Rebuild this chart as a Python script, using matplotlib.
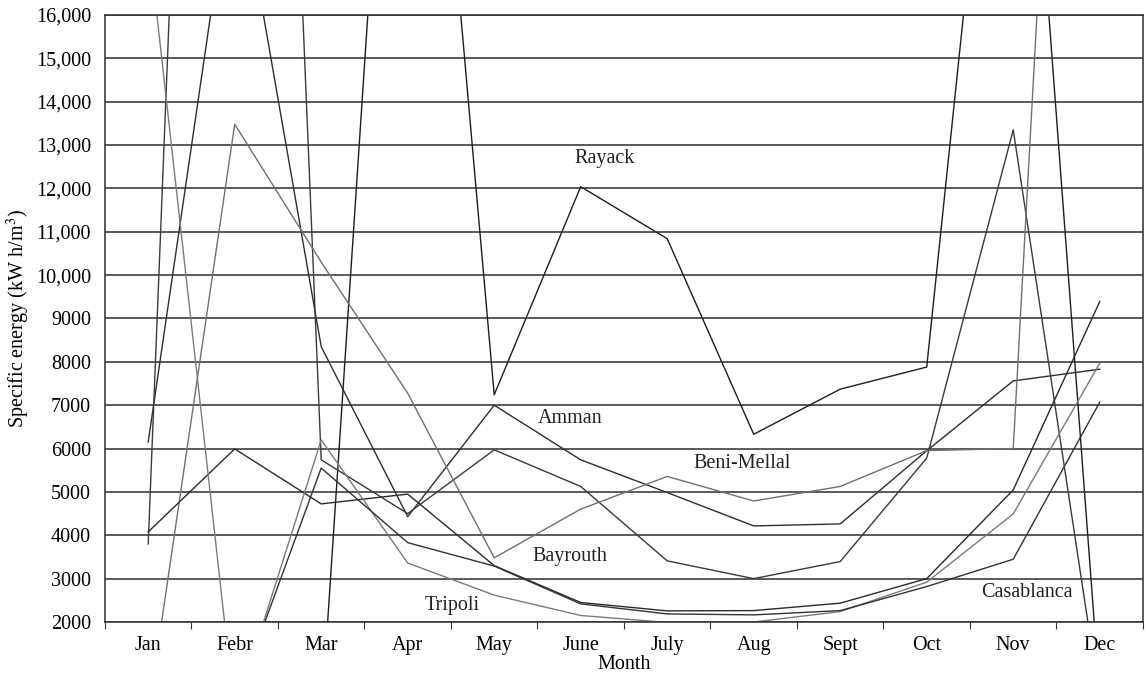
import matplotlib
matplotlib.use("Agg")
import matplotlib.pyplot as plt
from matplotlib.ticker import FuncFormatter

plt.rcParams['font.family'] = ['Liberation Serif', 'DejaVu Serif']
plt.rcParams['mathtext.fontset'] = 'stix'

# Meses
months = ['Jan', 'Febr', 'Mar', 'Apr', 'May', 'June', 'July', 'Aug', 'Sept', 'Oct', 'Nov', 'Dec']

# Energia especifica (kW h/m3); varios valores salen del rango visible
rayack = [0, 0, -240, 29900, 7240, 12040, 10840, 6330, 7370, 7880, 27000, 300]
amman = [6150, 19800, 8350, 4430, 7000, 5740, 4985, 4216, 4262, 5950, 7560, 7830]
bayrouth = [3800, 54000, 5740, 4500, 5970, 5126, 3410, 3000, 3394, 5780, 13350, 200]
beni_mellal = [-100, 13480, 10300, 7276, 3480, 4603, 5357, 4790, 5126, 5953, 6000, 42500]
other = [4078, 5992, 4724, 4950, 3300, 2449, 2256, 2263, 2434, 3001, 5046, 9390]
tripoli = [17800, -100, 6200, 3360, 2620, 2150, 1990, 2000, 2240, 2919, 4493, 7968]
casablanca = [0, 100, 5550, 3830, 3290, 2418, 2186, 2164, 2263, 2817, 3448, 7069]

fig = plt.figure(figsize=(11.47, 6.80), dpi=100)
ax = fig.add_axes([0.0915, 0.0853, 0.905, 0.8927])

x = list(range(len(months)))
lw = 1.0
ax.plot(x, rayack, color='#1e1e1e', lw=lw)
ax.plot(x, amman, color='#2e2e2e', lw=lw)
ax.plot(x, bayrouth, color='#3a3a3a', lw=lw)
ax.plot(x, beni_mellal, color='#707070', lw=lw)
ax.plot(x, other, color='#2a2a2a', lw=lw)
ax.plot(x, tripoli, color='#7a7a7a', lw=lw)
ax.plot(x, casablanca, color='#333333', lw=lw)

# Etiquetas de las ciudades
fs = 14.5
ax.text(5.28, 12700, 'Rayack', ha='center', va='center', fontsize=fs, color='#222')
ax.text(4.88, 6700, 'Amman', ha='center', va='center', fontsize=fs, color='#222')
ax.text(6.87, 5650, 'Beni-Mellal', ha='center', va='center', fontsize=fs, color='#222')
ax.text(4.88, 3520, 'Bayrouth', ha='center', va='center', fontsize=fs, color='#222')
ax.text(3.52, 2370, 'Tripoli', ha='center', va='center', fontsize=fs, color='#222')
ax.text(10.16, 2670, 'Casablanca', ha='center', va='center', fontsize=fs, color='#222')

ax.set_xlim(-0.5, 11.5)
ax.set_ylim(2000, 16000)
ax.set_yticks(range(2000, 16001, 1000))
ax.yaxis.set_major_formatter(FuncFormatter(lambda v, p: f'{v:,.0f}' if v >= 10000 else f'{v:.0f}'))
ax.yaxis.grid(True, color='#2e2e2e', lw=1.1)
ax.set_axisbelow(True)

ax.set_xticks([i - 0.5 for i in range(13)])
ax.set_xticklabels([])
ax.set_xticks(x, minor=True)
ax.set_xticklabels(months, minor=True, fontsize=fs)
ax.tick_params(axis='x', which='major', direction='out', length=5, color='#333')
ax.tick_params(axis='x', which='minor', length=0, pad=10)
ax.tick_params(axis='y', length=0, pad=10, labelsize=fs)

for s in ax.spines.values():
    s.set_color('#2e2e2e')
    s.set_linewidth(1.1)

ax.set_xlabel('Month', fontsize=fs, labelpad=0)
ax.set_ylabel('Specific energy (kW h/m$^3$)', fontsize=fs, labelpad=3)

fig.savefig('out.png', dpi=100)
